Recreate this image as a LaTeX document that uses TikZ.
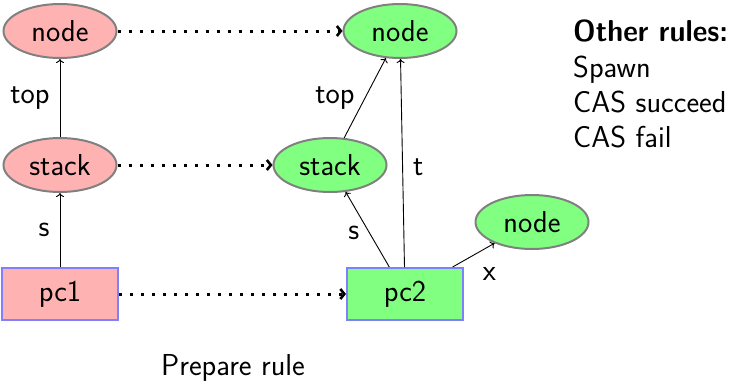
\documentclass[tikz,border=0pt]{standalone}
\usetikzlibrary{arrows.meta,shapes.geometric}
\begin{document}
\begin{tikzpicture}[x=1pt,y=-1pt,
  every node/.style={font=\sffamily\fontsize{30.3}{36}\selectfont},
  oldfill/.style={fill=red!30},
  newfill/.style={fill=green!50},
  heapnode/.style={ellipse, draw=gray, line width=2pt, inner sep=0pt,
    minimum width=113pt, minimum height=54pt},
  pcbox/.style={rectangle, draw=blue!50, line width=2pt, inner sep=0pt,
    minimum width=116pt, minimum height=52pt},
  ptr/.style={line width=0.9pt, -{To[length=4pt,width=8pt]}},
  becomes/.style={line width=3pt, dash pattern=on 3pt off 8pt,
    -{Straight Barb[length=4pt,width=10pt,line width=2.6pt]}},
  lbl/.style={inner sep=10pt},
  sidetext/.style={anchor=base west, inner sep=0pt}
]
\useasboundingbox (0,0) rectangle (730,384);

% state before the step
\node[heapnode, oldfill] (n1) at (60,31) {node};
\node[heapnode, oldfill] (s1) at (60,165) {stack};
\node[pcbox, oldfill] (p1) at (60,294) {pc1};

% state after the step
\node[heapnode, newfill] (n2) at (400,31) {node};
\node[heapnode, newfill] (s2) at (330,165) {stack};
\node[pcbox, newfill] (p2) at (405,294) {pc2};
\node[heapnode, newfill] (n3) at (532,222) {node};

% pointers
\draw[ptr] (s1) -- node[lbl, left] {top} (n1);
\draw[ptr] (p1) -- node[lbl, left] {s} (s1);
\draw[ptr] (s2) -- node[lbl, left, pos=0.5] {top} (n2);
\draw[ptr] (p2) -- node[lbl, left, pos=0.45] {s} (s2);
\draw[ptr] (p2) -- node[lbl, right, pos=0.48] {t} (n2);
\draw[ptr] (p2) -- node[below right, pos=0.45, inner sep=2pt,
  xshift=9pt, yshift=-9pt] {x} (n3);

% correspondence between the two states
\draw[becomes] (n1) -- (n2);
\draw[becomes] (s1) -- (s2);
\draw[becomes] (p1) -- (p2);

% captions
\node[anchor=base] (cap) at (233,375) {Prepare rule};
\node[sidetext] (oth) at (573,41) {\resizebox{155pt}{\height}{\bfseries Other rules:}};
\node[sidetext] (r1) at (573,77) {Spawn};
\node[sidetext] (r2) at (573,112) {CAS succeed};
\node[sidetext] (r3) at (573,147) {CAS fail};
\end{tikzpicture}
\end{document}
